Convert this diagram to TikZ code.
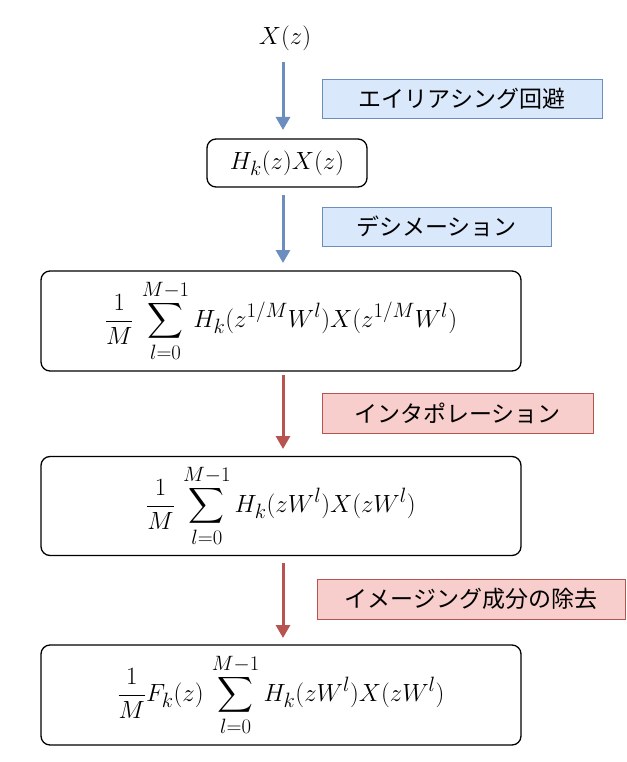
\documentclass[tikz,border=0pt]{standalone}
\usepackage{amsmath}
\usepackage{fontspec}
\newfontfamily\cjk{Noto Sans CJK JP}
\usetikzlibrary{arrows.meta}
\definecolor{bfill}{HTML}{DAE8FC}\definecolor{bline}{HTML}{6C8EBF}
\definecolor{rfill}{HTML}{F8CECC}\definecolor{rline}{HTML}{B85450}
\begin{document}
\begin{tikzpicture}[x=1pt,y=-1pt,
  mbox/.style={draw,rounded corners=9pt,line width=1.3pt,font=\fontsize{29}{32}\selectfont},
  blab/.style={draw=bline,fill=bfill,line width=0.9pt,font=\cjk\fontsize{23}{26}\selectfont},
  rlab/.style={draw=rline,fill=rfill,line width=0.9pt,font=\cjk\fontsize{23}{26}\selectfont},
  barr/.style={draw=bline,line width=3pt,-{Triangle[length=13pt,width=14pt]}},
  rarr/.style={draw=rline,line width=3pt,-{Triangle[length=13pt,width=14pt]}}]
\useasboundingbox (0,0) rectangle (626,762);
\node[font=\fontsize{29}{32}\selectfont] (x) at (285,38) {$X(z)$};
\node[mbox,minimum width=160pt,minimum height=48pt] (h) at (287,163) {$H_k(z)X(z)$};
\node[mbox,minimum width=480pt,minimum height=100pt] (b1) at (281,321) {$\displaystyle\frac{1}{M}\,\sum_{l=0}^{M-1}H_k(z^{1/M}W^l)X(z^{1/M}W^l)$};
\node[mbox,minimum width=480pt,minimum height=99pt] (b2) at (281,506) {$\displaystyle\frac{1}{M}\,\sum_{l=0}^{M-1}H_k(zW^l)X(zW^l)$};
\node[mbox,minimum width=480pt,minimum height=100pt] (b3) at (281,695) {$\displaystyle\frac{1}{M}F_k(z)\,\sum_{l=0}^{M-1}H_k(zW^l)X(zW^l)$};
\coordinate (a1s) at (283,62); \coordinate (a1e) at (283,130);
\coordinate (a2s) at (283,195); \coordinate (a2e) at (283,263);
\coordinate (a3s) at (283,375); \coordinate (a3e) at (283,449);
\coordinate (a4s) at (283,563); \coordinate (a4e) at (283,638);
\draw[barr] (a1s) -- (a1e);
\draw[barr] (a2s) -- (a2e);
\draw[rarr] (a3s) -- (a3e);
\draw[rarr] (a4s) -- (a4e);
\node[blab,minimum width=280pt,minimum height=39pt] (l1) at (462,98.5) {エイリアシング回避};
\node[blab,minimum width=229pt,minimum height=39pt] (l2) at (436.5,226.5) {デシメーション};
\node[rlab,minimum width=271pt,minimum height=40pt] (l3) at (457.5,413) {インタポレーション};
\node[rlab,minimum width=308pt,minimum height=40pt] (l4) at (471,599) {イメージング成分の除去};
\end{tikzpicture}
\end{document}
